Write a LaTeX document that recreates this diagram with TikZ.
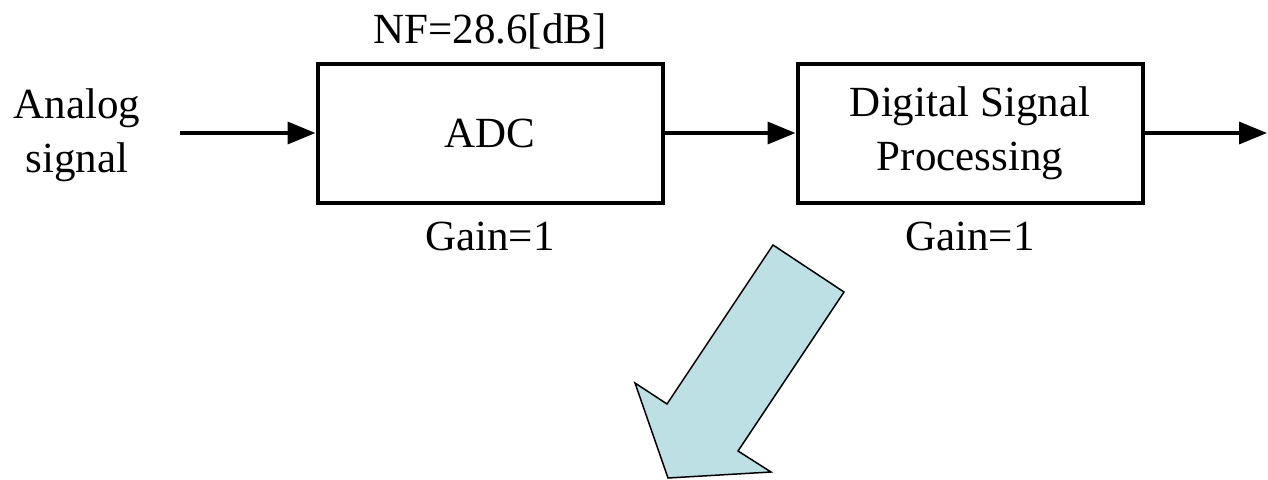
\documentclass[tikz,border=0pt]{standalone}
\usepackage{fontspec}
\setmainfont{Liberation Serif}
\usetikzlibrary{arrows.meta}
\definecolor{paleblue}{RGB}{188,224,227}
\begin{document}
\begin{tikzpicture}[x=1pt,y=-1pt,font=\fontsize{43}{54}\selectfont]
\tikzstyle{block}=[draw,line width=4pt,minimum width=345pt,minimum height=139pt,align=center,inner sep=0pt]
\tikzstyle{flow}=[line width=3.5pt,-{Triangle[length=28pt,width=22pt]}]
\tikzset{every label/.style={inner sep=0pt}}
\useasboundingbox (0,0) rectangle (1268,479);

\node[align=center] at (77,135) (in) {Analog\\signal};
\node[block,label={[label distance=12pt]above:{NF=28.6[dB]}},label={[label distance=17pt]below:Gain=1}] at (490,133) (adc) {ADC};
\node[block,label={[label distance=17pt]below:Gain=1}] at (970,133) (dsp) {Digital Signal\\Processing};
\coordinate (src) at (180,133);
\coordinate (out) at (1267,133);

\draw[flow] (src) -- (adc);
\draw[flow] (adc) -- (dsp);
\draw[flow] (dsp) -- (out);

% big arrow pointing down-left
\draw[fill=paleblue,line width=1.5pt,line join=miter] (773,245) -- (844,292) -- (738,451) -- (771,472) -- (668,478) -- (635,383) -- (667,404) -- cycle;
\end{tikzpicture}
\end{document}
